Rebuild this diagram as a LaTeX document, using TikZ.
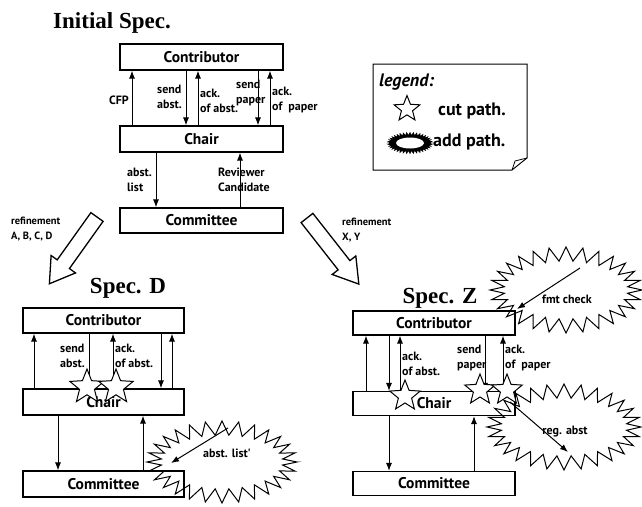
\documentclass[tikz,border=0pt]{standalone}
\usepackage{fontspec}
\setmainfont{Liberation Serif}
\newfontfamily\labfont{PT Sans}
\usetikzlibrary{arrows.meta,shapes.geometric}
\newcommand\spikyburst[7]{% cx cy rx ry depth npoints style
  \draw[#7] plot[samples at={0,...,#6}, variable=\t]
    ({#1+(#3-#5*mod(\t,2))*cos(\t*(360/#6))},{#2+(#4-#5*mod(\t,2))*sin(\t*(360/#6))}) -- cycle;}
\newcommand\hollowarrow[5]{% x y angle length name
  \begin{scope}[shift={(#1,#2)},rotate=#3]
    \draw[line width=1.3pt,fill=white,line join=miter] (0,-7.5) -- ({#4-24},-7.5) -- ({#4-24},-15) -- (#4,0)
      -- ({#4-24},15) -- ({#4-24},7.5) -- (0,7.5) -- cycle;
    \coordinate (#5) at (#4,0);
  \end{scope}}
\begin{document}
\begin{tikzpicture}[x=1pt,y=-1pt,
  box/.style={draw,line width=1.1pt,inner sep=0pt,font=\labfont\bfseries\fontsize{15.5}{16}\selectfont},
  arr/.style={-{Latex[length=8pt,width=6pt]},line width=1pt},
  lab/.style={font=\labfont\bfseries\fontsize{12}{15}\selectfont,align=left,inner sep=0pt},
  title/.style={font=\bfseries\fontsize{23}{23}\selectfont,inner sep=0pt},
  cut/.style={star,star points=5,star point ratio=2.3,draw,line width=1pt,fill=white,inner sep=0pt,minimum size=36},
  legtext/.style={font=\labfont\bfseries\fontsize{18}{18}\selectfont,anchor=west,inner sep=0pt},
  refl/.style={font=\labfont\bfseries\fontsize{10.5}{15}\selectfont,align=left,inner sep=0pt}]
\useasboundingbox (0,0) rectangle (642,506);

% ---------------- Initial Spec ----------------
\node[title,anchor=base] (t0) at (112,28) {Initial Spec.};
\node[box,minimum width=163,minimum height=26] (ic) at (201.5,57) {Contributor};
\node[box,minimum width=163,minimum height=26] (ih) at (201.5,139) {Chair};
\node[box,minimum width=163,minimum height=25] (im) at (201.5,220.5) {Committee};
\draw[arr] (ih.north -| 132,0) -- (ic.south -| 132,0);
\draw[arr] (ic.south -| 186,0) -- (ih.north -| 186,0);
\draw[arr] (ih.north -| 198,0) -- (ic.south -| 198,0);
\draw[arr] (ic.south -| 258,0) -- (ih.north -| 258,0);
\draw[arr] (ih.north -| 270,0) -- (ic.south -| 270,0);
\draw[arr] (ih.south -| 156,0) -- (im.north -| 156,0);
\draw[arr] (im.north -| 240,0) -- (ih.south -| 240,0);
\node[lab,anchor=east] (l1) at (129,100) {CFP};
\node[lab,anchor=west] (l2) at (157,97) {send\\abst.};
\node[lab,anchor=west] (l3) at (200,101) {ack.\\of abst.};
\node[lab,anchor=west] (l4) at (236,93) {send\\paper};
\node[lab,anchor=west] (l5) at (272,100) {ack.\\of\ \ paper};
\node[lab,anchor=west] (l6) at (127,180) {abst.\\list};
\node[lab,anchor=west] (l7) at (218,180) {Reviewer\\Candidate};

% ---------------- legend ----------------
\draw[line width=1pt] (373,64) -- (527,64) -- (527,158) -- (512,170) -- (373,170) -- cycle;
\draw[line width=0.8pt] (512,170) -- (515,161) -- (527,158);
\node[legtext,font=\labfont\bfseries\itshape\fontsize{18}{18}\selectfont] (lg) at (379,82) {legend:};
\node[cut,minimum size=27] (lgs) at (407,109) {};
\node[legtext] (lgc) at (438,111) {cut path.};
\spikyburst{410}{143}{22}{10.5}{3}{80}{fill=black,line width=0.6pt}
\fill[white] (410,143) ellipse (14 and 5.5);
\node[legtext] (lga) at (433,142) {add path.};

% ---------------- refinement arrows ----------------
\hollowarrow{97}{217}{-125.5}{82}{ra}
\node[refl,anchor=west] (rl) at (11,229.5) {refinement\\A, B, C, D};
\hollowarrow{307}{218}{-51.9}{84}{rb}
\node[refl,anchor=west] (rr) at (342,230) {refinement\\X, Y};

% ---------------- Spec D ----------------
\node[title,anchor=base] (td) at (128,293) {Spec. D};
\node[box,minimum width=161,minimum height=25] (dc) at (103.5,320.5) {Contributor};
\node[box,minimum width=161,minimum height=26] (dh) at (103.5,402) {Chair};
\node[box,minimum width=161,minimum height=26] (dm) at (103.5,484) {Committee};
\draw[arr] (dh.north -| 34,0) -- (dc.south -| 34,0);
\draw[arr] (dc.south -| 89,0) -- (dh.north -| 89,0);
\draw[arr] (dh.north -| 113,0) -- (dc.south -| 113,0);
\draw[arr] (dc.south -| 161,0) -- (dh.north -| 161,0);
\draw[arr] (dh.north -| 172,0) -- (dc.south -| 172,0);
\draw[arr] (dh.south -| 58,0) -- (dm.north -| 58,0);
\draw[arr] (dm.north -| 143,0) -- (dh.south -| 143,0);
\node[lab,anchor=west] (dl1) at (60,356) {send\\abst.};
\node[lab,anchor=west] (dl2) at (115,356) {ack.\\of abst.};
\node[cut] (ds1) at (87,387) {};
\node[cut] (ds2) at (116,387) {};
\spikyburst{222}{462}{75}{41}{14}{56}{line width=1pt}
\coordinate (db1) at (228,428);
\coordinate (db2) at (171,463);
\draw[arr] (db1) -- (db2);
\node[lab] (dbl) at (227,453) {abst. list'};

% ---------------- Spec Z ----------------
\node[title,anchor=base] (tz) at (440,303) {Spec. Z};
\node[box,minimum width=162,minimum height=24] (zc) at (434,323) {Contributor};
\node[box,minimum width=162,minimum height=24] (zh) at (434,403.5) {Chair};
\node[box,minimum width=162,minimum height=24] (zm) at (434,483.5) {Committee};
\draw[arr] (zh.north -| 366,0) -- (zc.south -| 366,0);
\draw[arr] (zc.south -| 389,0) -- (zh.north -| 389,0);
\draw[arr] (zh.north -| 400,0) -- (zc.south -| 400,0);
\draw[arr] (zc.south -| 485,0) -- (zh.north -| 485,0);
\draw[arr] (zh.north -| 503,0) -- (zc.south -| 503,0);
\draw[arr] (zh.south -| 389,0) -- (zm.north -| 389,0);
\draw[arr] (zm.north -| 474,0) -- (zh.south -| 474,0);
\node[lab,anchor=west] (zl1) at (402,364) {ack.\\of abst.};
\node[lab,anchor=west] (zl2) at (457,358) {send\\paper};
\node[lab,anchor=west] (zl3) at (505,358) {ack.\\of\ \ paper};
\node[cut,minimum size=32] (zs1) at (405,396) {};
\node[cut,minimum size=32] (zs2) at (480,390) {};
\node[cut,minimum size=32] (zs3) at (507,390) {};
\spikyburst{566}{290}{76}{43}{14}{56}{line width=1pt}
\coordinate (zb1) at (580,268);
\coordinate (zb2) at (517,309);
\draw[arr] (zb1) -- (zb2);
\node[lab] (zbl1) at (567,299) {fmt check};
\spikyburst{564}{427}{77}{43}{14}{56}{line width=1pt}
\coordinate (zb3) at (510,402);
\coordinate (zb4) at (568,452);
\draw[arr] (zb3) -- (zb4);
\node[lab] (zbl2) at (565,432) {reg. abst};
\end{tikzpicture}
\end{document}
